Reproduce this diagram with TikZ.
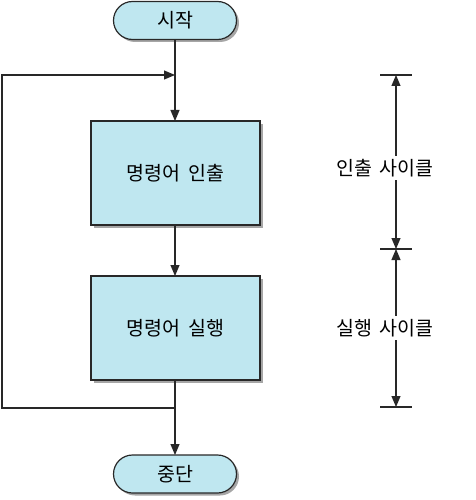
\documentclass[tikz,border=0pt]{standalone}
\usepackage{fontspec}
\newfontfamily\kr{Noto Sans CJK KR}
\usetikzlibrary{arrows.meta}
\definecolor{boxfill}{RGB}{191,231,240}
\definecolor{linecol}{RGB}{40,40,40}
\newcommand{\wsp}{\hspace{0.4em}}
\begin{document}
\begin{tikzpicture}[x=1pt,y=-1pt,
  font=\kr\fontsize{19.5}{23}\selectfont,
  every node/.style={inner sep=0pt, outer sep=0pt},
  shade box/.style={preaction={fill=gray!70, transform canvas={xshift=2.5pt,yshift=-2.5pt}}},
  procbox/.style={draw=linecol, line width=1.2pt, fill=boxfill, shade box,
    minimum width=169pt, minimum height=104pt},
  termbox/.style={draw=linecol, line width=1.2pt, fill=boxfill, shade box,
    minimum width=123pt, minimum height=38pt, rounded corners=19pt},
  flow/.style={draw=linecol, line width=1.1pt, -{Triangle[length=11pt,width=9pt]}},
  plain/.style={draw=linecol, line width=1.1pt},
  dim/.style={draw=linecol, line width=1.1pt, {Triangle[length=11pt,width=9pt]}-{Triangle[length=11pt,width=9pt]}},
  lbl/.style={fill=white, inner sep=3pt}]
\useasboundingbox (0,0) rectangle (475,500);

% flowchart nodes
\node[termbox] (start) at (175,20.5) {시작};
\node[procbox] (fetch) at (175.5,173) {\raisebox{-2pt}{명령어\wsp 인출}};
\node[procbox] (exec) at (175.5,328) {명령어\wsp 실행};
\node[termbox] (stop) at (175,474) {중단};

\coordinate (merge) at (175,75);
\coordinate (join) at (175,408);

% main flow
\draw[plain] (start.south) -- (merge);
\draw[flow] (merge) -- (fetch.north -| merge);
\draw[flow] (fetch.south -| merge) -- (exec.north -| merge);
\draw[plain] (exec.south -| merge) -- (join);
\draw[flow] (join) -- (stop.north -| join);

% loop back
\draw[flow] (join) -- (2,408) -- (2,75) -- (merge);

% cycle dimension marks
\coordinate (t1) at (396,75);
\coordinate (t2) at (396,249);
\coordinate (t3) at (396,407);
\foreach \t in {t1,t2,t3}
  \draw[plain] ([xshift=-16pt]\t) -- ([xshift=16pt]\t);
\draw[dim] (t1) -- (t2);
\draw[dim] (t2) -- (t3);
\node[lbl] (fc) at (385,168) {인출\wsp 사이클};
\node[lbl] (ec) at (385,328) {실행\wsp 사이클};
\end{tikzpicture}
\end{document}
